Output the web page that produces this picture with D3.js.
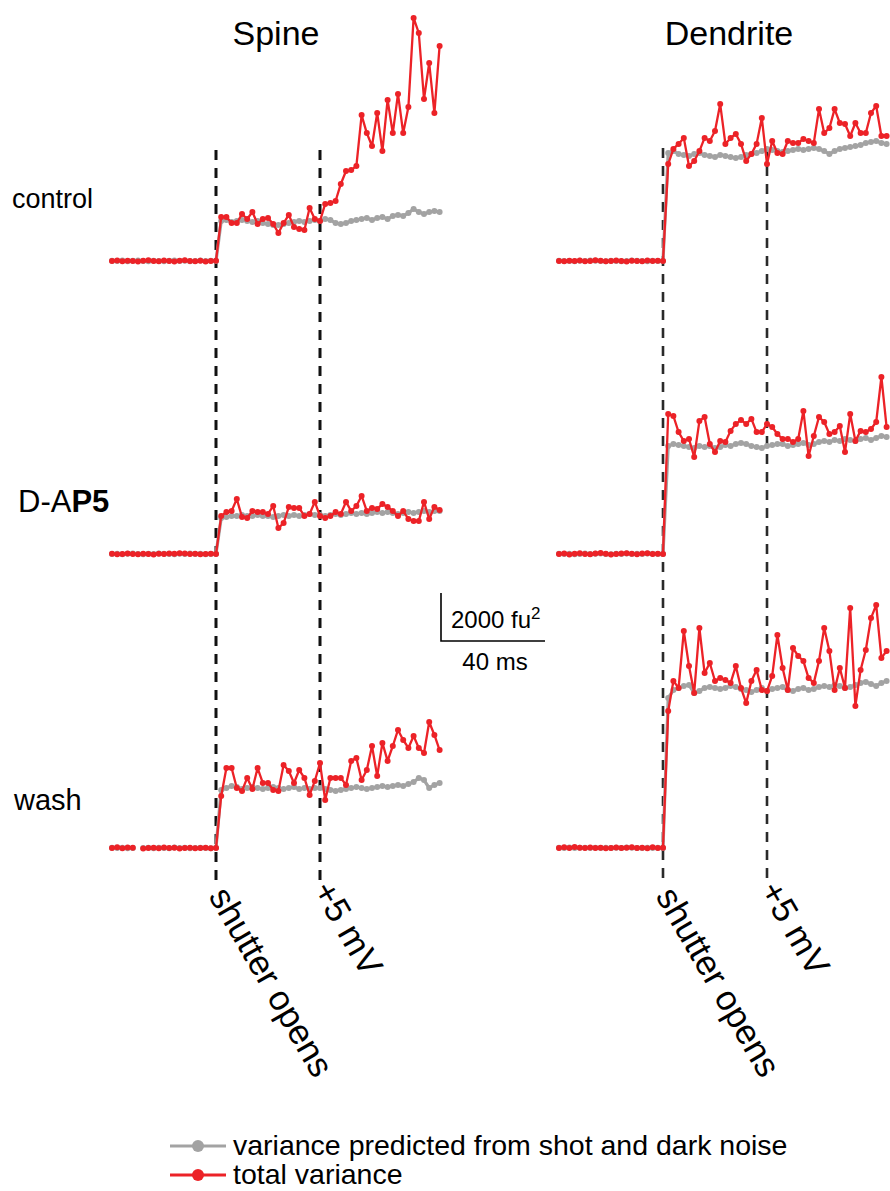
<!DOCTYPE html>
<html><head><meta charset="utf-8">
<script src="https://cdn.jsdelivr.net/npm/d3@7"></script>
<style>body{margin:0;background:#fff} text{font-family:"Liberation Sans",Arial,Helvetica,sans-serif;fill:#000}</style>
</head><body>
<svg id="chart" width="890" height="1191"></svg>
<script>
// ---------- data ----------
const timeMs = [0,2,4,6,8,10,12,14,16,18,20,22,24,26,28,30,32,34,36,38,40,
  42,44,46,48,50,52,54,56,58,60,62,64,66,68,70,72,74,76,78,
  80,82,84,86,88,90,92,94,96,98,100,102,104,106,108,110,112,114,116,118,120,122,124,126];
const compartments = ["Spine", "Dendrite"];
const conditions = ["control", "D-AP5", "wash"];
const eventTimes = [40, 80];
const eventLabels = ["shutter opens", "+5 mV"];
const seriesNames = ["variance predicted from shot and dark noise", "total variance"];
const scaleBarVariance = 2000;   // fu²
const scaleBarTime = 40;         // ms

// variance (fu², above dark baseline), sampled at timeMs
const spineControlTotal = [0,20,-10,10,0,-20,10,30,0,-10,20,0,-20,10,30,0,-10,10,-20,0,10,
  1830,1830,1580,1580,1960,1750,2040,1540,1750,1790,1540,1170,1580,1920,1420,1330,1290,2210,1750,
  1670,2380,2420,2500,3210,3750,3790,3960,6080,5330,4790,6170,4580,6710,5330,6960,5330,6420,10130,9500,6750,8250,6170,8960];
const spineControlPredicted = [10,0,20,-10,10,20,0,-10,10,0,-10,10,20,0,10,-10,0,20,0,10,0,
  1670,1710,1630,1670,1710,1670,1630,1670,1580,1540,1500,1500,1540,1580,1630,1670,1630,1670,1710,
  1670,1750,1710,1580,1540,1580,1670,1710,1750,1790,1710,1790,1830,1750,1880,1920,1880,2000,2170,2040,1960,2040,2080,2040];
const spineDAP5Total = [10,-10,0,20,0,-10,10,0,-20,10,0,20,10,30,20,0,10,-10,0,10,0,
  1580,1750,1790,2290,1540,1500,1790,1750,1750,1670,2000,1080,1290,1960,1920,1920,1580,1670,2170,
  1580,1500,1580,1750,1670,2170,1790,2000,2420,1790,1920,1880,2080,1960,1790,1580,1790,1460,1380,1380,2170,1460,1960,1830];
const spineDAP5Predicted = [0,10,-10,10,20,0,-10,10,0,20,10,0,-10,10,0,20,0,10,-10,0,10,
  1500,1540,1580,1580,1630,1580,1580,1630,1580,1580,1540,1580,1630,1580,1630,1580,1630,1670,1630,
  1630,1580,1630,1670,1630,1670,1710,1670,1710,1670,1710,1750,1710,1750,1710,1670,1710,1750,1710,1750,1790,1750,1790,1790];
const spineWashTotal = [0,30,-10,20,10,null,-20,0,10,-10,20,0,10,-20,0,10,-10,0,10,-10,0,
  2170,3330,3330,2500,2380,2920,2460,3330,2710,2710,2420,2380,3460,3210,2710,3250,2920,2210,2790,
  3540,2000,2920,2920,2920,2630,3630,3750,2830,3250,4250,3000,4380,3630,4250,4920,4500,4170,4670,4170,3960,5250,4710,4080];
const spineWashPredicted = [10,0,10,-10,0,null,0,10,-10,10,0,-10,20,0,10,-10,0,10,0,-10,10,
  2420,2500,2580,2540,2460,2500,2540,2500,2460,2500,2540,2500,2460,2500,2540,2460,2500,2460,2500,
  2500,2460,2420,2380,2420,2460,2500,2540,2500,2460,2500,2540,2580,2540,2580,2630,2580,2670,2750,2920,2830,2500,2630,2710];
const dendriteControlTotal = [0,-10,10,0,20,-10,0,30,10,-10,0,20,0,-20,10,0,-10,20,0,10,0,
  4040,4670,4880,5130,3960,4170,4580,5130,5000,5420,6540,4880,5130,5290,4880,4170,4460,4880,5960,4040,
  5000,4500,4460,5000,4920,4920,5080,5000,4920,6330,5330,5540,6330,5750,5710,5210,5750,5330,5330,6170,6460,5210,5210];
const dendriteControlPredicted = [10,0,0,-10,10,0,20,10,0,-10,10,0,-10,0,20,10,0,-10,10,0,0,
  4500,4580,4460,4420,4380,4460,4500,4420,4380,4330,4420,4380,4330,4290,4330,4420,4460,4500,4580,4670,
  4630,4580,4540,4580,4630,4670,4630,4670,4710,4670,4580,4460,4580,4670,4710,4750,4790,4830,4920,4960,5000,4920,4880];
const dendriteDAP5Total = [0,20,-20,10,30,0,-10,20,40,10,-20,0,20,30,10,-10,20,30,0,10,0,
  5830,5750,5080,4710,4790,4040,5540,5710,4580,4250,4710,4670,5130,5420,5580,5420,5630,5080,5080,5420,
  5290,5000,4790,4790,4670,4790,5960,4080,4920,5710,5500,5000,5080,5330,4250,5830,4710,5130,5080,5210,5500,7380,5290];
const dendriteDAP5Predicted = [10,0,10,-10,0,20,0,10,20,0,-10,10,0,20,0,10,0,20,10,0,0,
  4500,4580,4540,4500,4460,4420,4500,4460,4500,4420,4460,4540,4500,4580,4630,4580,4500,4460,4420,4500,
  4540,4580,4580,4500,4540,4580,4630,4540,4580,4670,4710,4670,4750,4710,4790,4750,4710,4790,4830,4750,4830,4920,4880];
const dendriteWashTotal = [0,30,0,40,10,0,20,0,10,-10,0,20,0,10,30,0,10,-10,30,0,10,
  5710,6960,6670,9040,7580,6460,9170,7290,7710,6960,7080,7000,6880,7580,6670,6040,6960,7420,6580,6540,
  7170,8880,7500,6580,8330,8000,7790,7080,6880,7790,9170,8210,6580,7500,6670,10000,5920,7420,8250,9580,10130,7920,8210];
const dendriteWashPredicted = [10,0,20,0,10,10,0,10,0,10,0,10,0,20,10,0,0,10,0,10,0,
  6250,6580,6670,6750,6790,6460,6540,6670,6710,6670,6630,6670,6750,6710,6630,6580,6500,6580,6670,6540,
  6630,6670,6710,6580,6540,6630,6670,6580,6630,6710,6750,6710,6790,6750,6670,6710,6790,6880,6920,6830,6750,6880,6960];

const panels = [
  {comp: 0, cond: 0, predicted: spineControlPredicted, total: spineControlTotal},
  {comp: 0, cond: 1, predicted: spineDAP5Predicted, total: spineDAP5Total},
  {comp: 0, cond: 2, predicted: spineWashPredicted, total: spineWashTotal},
  {comp: 1, cond: 0, predicted: dendriteControlPredicted, total: dendriteControlTotal},
  {comp: 1, cond: 1, predicted: dendriteDAP5Predicted, total: dendriteDAP5Total},
  {comp: 1, cond: 2, predicted: dendriteWashPredicted, total: dendriteWashTotal}
];

// ---------- layout ----------
const svg = d3.select("#chart");
const RED = "#ec2227", GRAY = "#a3a3a3";
const colX0 = [112, 559];
const rowBase = [261, 554, 848];
const pxPerMs = 2.6;
const pxPer2000 = 48;

const xScales = colX0.map(x0 => d3.scaleLinear().domain([0, 126]).range([x0, x0 + 126 * pxPerMs]));
const yScales = rowBase.map(b => d3.scaleLinear().domain([0, 2000]).range([b, b - pxPer2000]));

// titles
const titleX = [276, 729];
compartments.forEach((c, i) => {
  svg.append("text").attr("x", titleX[i]).attr("y", 45).attr("text-anchor", "middle")
    .style("font-size", "34px").text(c);
});

// condition labels
const labelPos = [[12, 208], [18, 512], [14, 810]];
const labelSize = ["27px", "31px", "29px"];
conditions.forEach((c, i) => {
  const t = svg.append("text").attr("x", labelPos[i][0]).attr("y", labelPos[i][1]).style("font-size", labelSize[i]);
  if (c === "D-AP5") {
    t.append("tspan").text("D-A");
    t.append("tspan").style("font-weight", "bold").text("P5");
  } else t.text(c);
});

// event dashed lines + rotated labels
const dashTop = [150, 148];
const dashStyle = [{w: 3, c: "#111"}, {w: 2.6, c: "#2a2a2a"}];
compartments.forEach((c, ci) => {
  eventTimes.forEach((et, ei) => {
    const x = xScales[ci](et);
    svg.append("line").attr("x1", x).attr("x2", x).attr("y1", dashTop[ci]).attr("y2", 884)
      .attr("stroke", dashStyle[ci].c).attr("stroke-width", dashStyle[ci].w)
      .attr("stroke-dasharray", "10,8");
    svg.append("text")
      .attr("transform", `translate(${x - 8},${ei === 0 ? 896 : 890}) rotate(60)`)
      .style("font-size", "35px").text(eventLabels[ei]);
  });
});

// traces
const lineGen = (xs, ys) => d3.line().defined(d => d.v != null).x(d => xs(d.t)).y(d => ys(d.v));
panels.forEach(p => {
  const xs = xScales[p.comp], ys = yScales[p.cond];
  const g = svg.append("g");
  [[p.predicted, GRAY, 3.2, 3], [p.total, RED, 2.3, 3]].forEach(([vals, col, lw, r]) => {
    const data = timeMs.map((t, i) => ({t, v: vals[i]}));
    g.append("path").datum(data).attr("d", lineGen(xs, ys)).attr("fill", "none")
      .attr("stroke", col).attr("stroke-width", lw).attr("stroke-linejoin", "round");
    g.selectAll(null).data(data.filter(d => d.v != null)).enter().append("circle")
      .attr("cx", d => xs(d.t)).attr("cy", d => ys(d.v)).attr("r", r).attr("fill", col);
  });
});

// scale bar
const sbX = 441, sbY = 641;
const sbLen = yScales[0](0) - yScales[0](scaleBarVariance);
const sbW = xScales[0](scaleBarTime) - xScales[0](0);
svg.append("path").attr("d", `M${sbX},${sbY - sbLen}V${sbY}H${sbX + sbW}`)
  .attr("fill", "none").attr("stroke", "#000").attr("stroke-width", 1.6);
const sbt = svg.append("text").attr("x", sbX + 10).attr("y", sbY - 13).style("font-size", "24px");
sbt.append("tspan").text(scaleBarVariance + " fu");
sbt.append("tspan").attr("dy", -9).style("font-size", "17px").text("2");
svg.append("text").attr("x", sbX + sbW / 2 + 2).attr("y", sbY + 29).attr("text-anchor", "middle")
  .style("font-size", "24px").text(scaleBarTime + " ms");

// legend
const legY = [1146, 1175], legCol = [GRAY, RED];
seriesNames.forEach((s, i) => {
  svg.append("line").attr("x1", 170).attr("x2", 226).attr("y1", legY[i]).attr("y2", legY[i])
    .attr("stroke", legCol[i]).attr("stroke-width", 2.8);
  svg.append("circle").attr("cx", 198).attr("cy", legY[i]).attr("r", 6).attr("fill", legCol[i]);
  svg.append("text").attr("x", 233).attr("y", legY[i] + 9).style("font-size", "28.5px").text(s);
});
</script>
</body></html>
